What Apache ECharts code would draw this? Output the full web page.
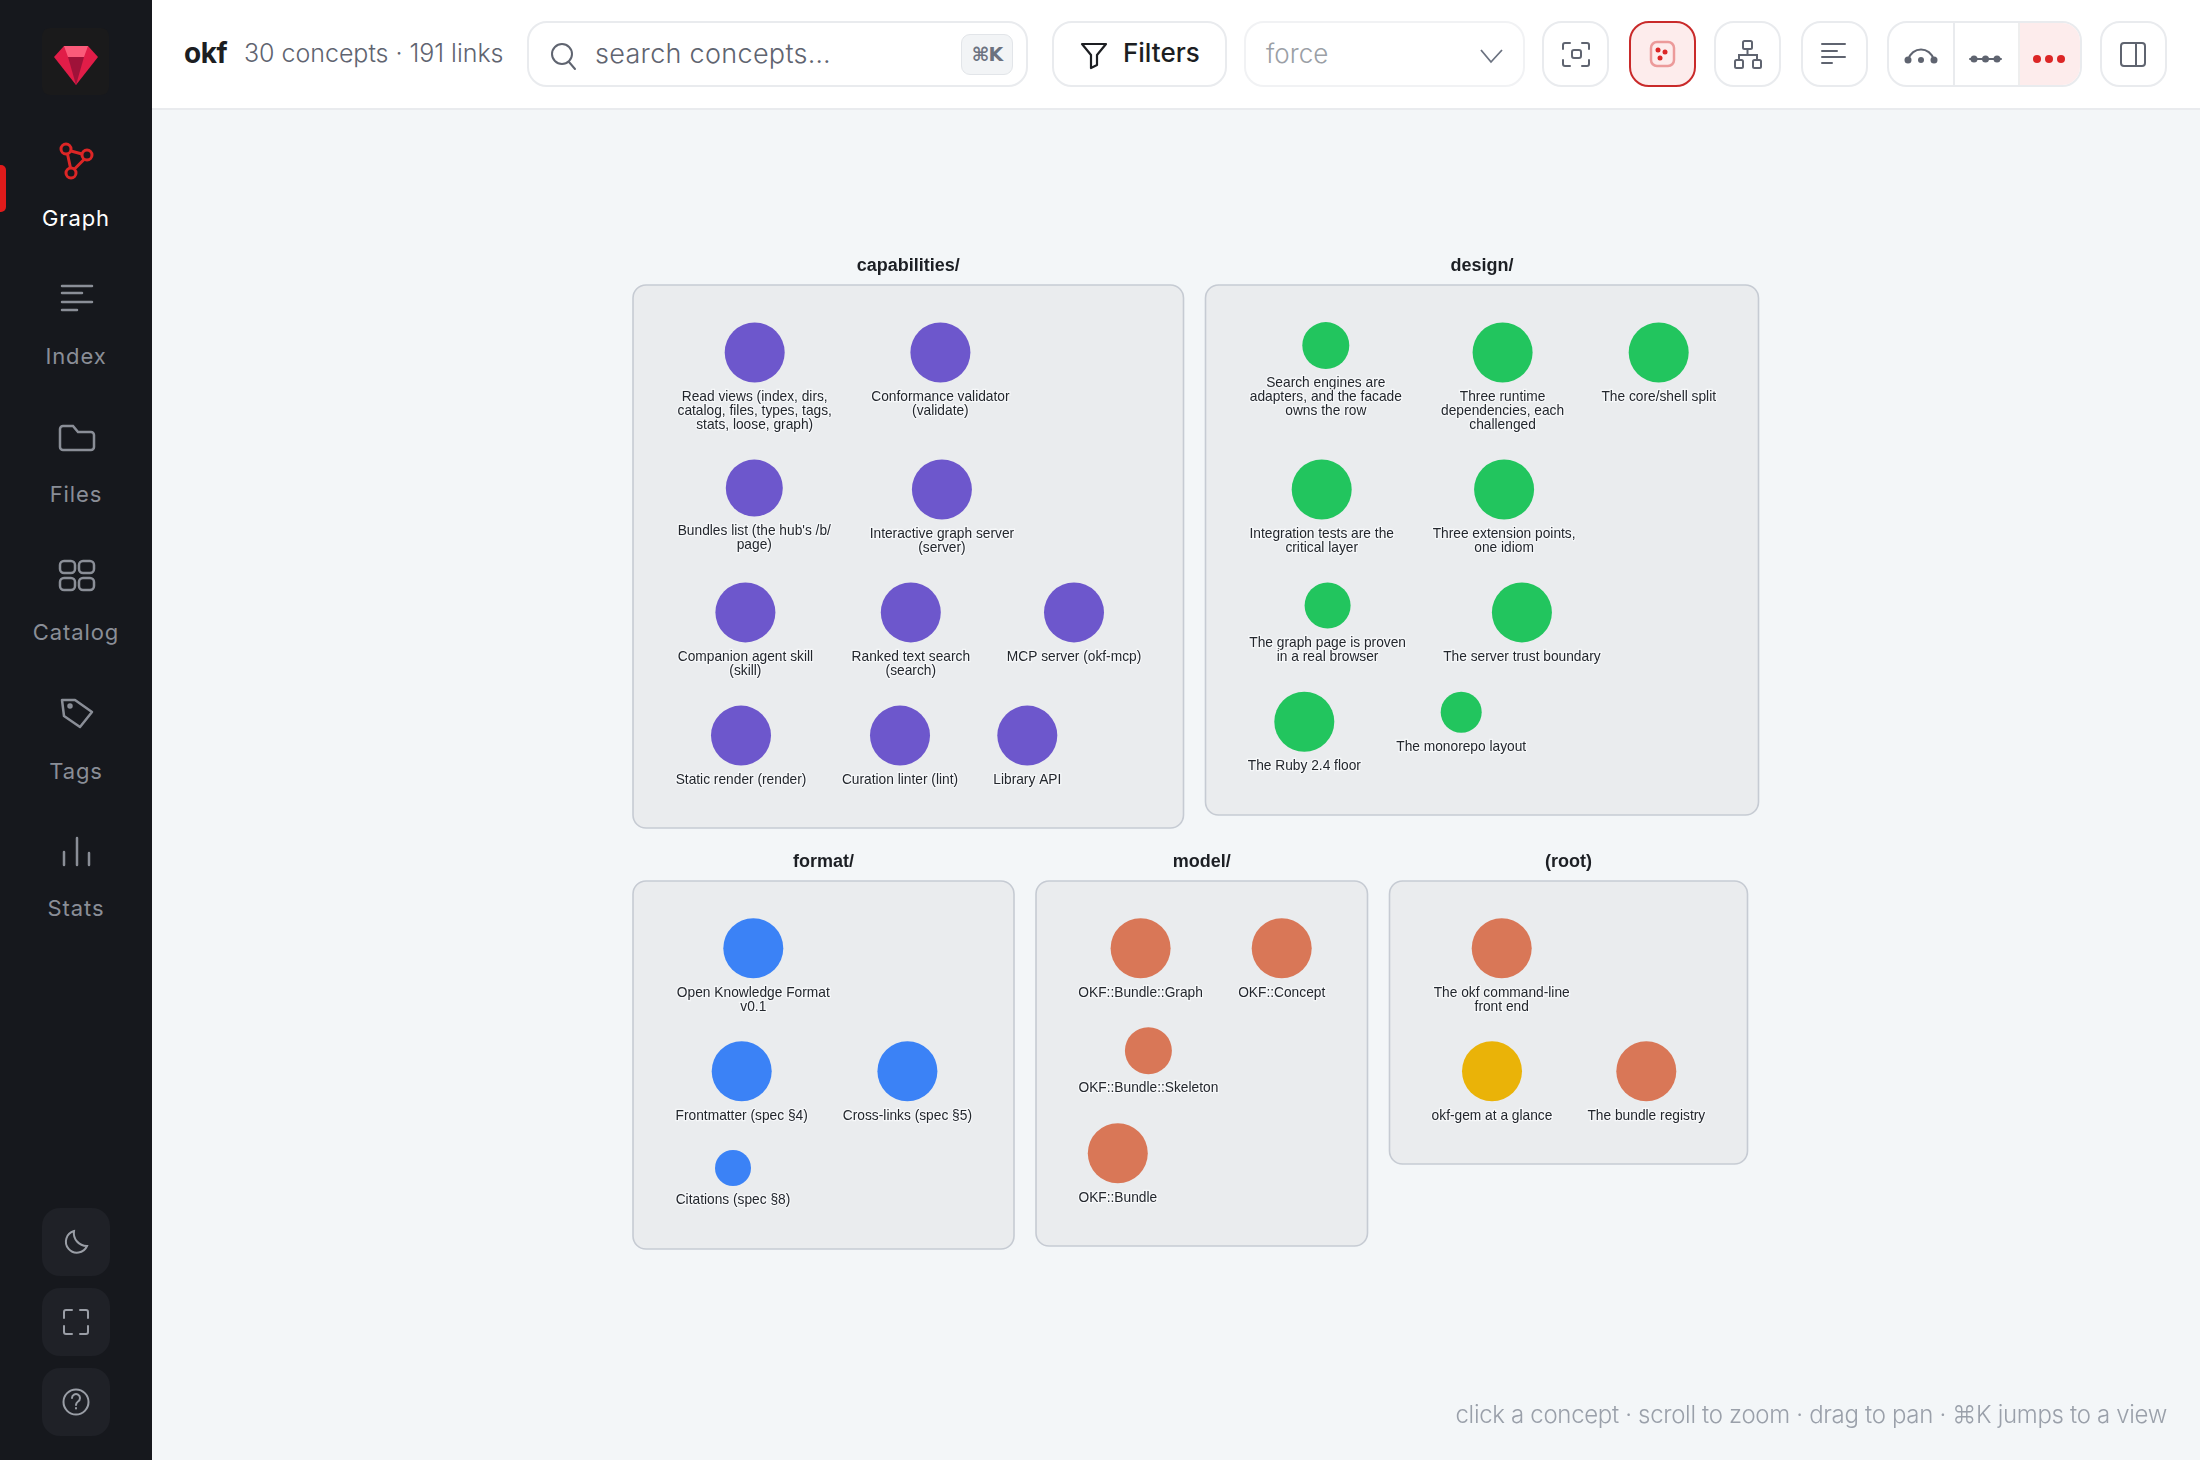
<!DOCTYPE html>
<html><head><meta charset="utf-8"><title>okf graph</title>
<script src="https://cdn.jsdelivr.net/npm/echarts@6/dist/echarts.min.js"></script>
<style>
html,body{margin:0;padding:0;width:2200px;height:1460px;overflow:hidden;background:#f3f6f8;font-family:Inter,"DejaVu Sans",sans-serif}
#chart{position:absolute;left:0;top:0;width:2200px;height:1460px}
#side{position:absolute;left:0;top:0;width:152px;height:1460px;background:#16181d}
#head{position:absolute;left:152px;top:0;width:2048px;height:108px;background:#fff;border-bottom:2px solid #e9ebee}
.t{position:absolute;white-space:nowrap;line-height:1}
.nav{position:absolute;left:0;width:152px;text-align:center;font-size:22px;letter-spacing:.9px;color:#8a8e97;line-height:1;font-weight:400}
.box{position:absolute;top:21px;height:62px;border:2px solid #e9ebee;border-radius:20px;background:#fff;box-sizing:content-box}
.sb{position:absolute;left:42px;width:68px;height:68px;border-radius:18px;background:#1f2127}
svg{position:absolute;overflow:visible}
</style></head><body>
<div id="chart"></div>
<div id="side">
  <div style="position:absolute;left:42px;top:28px;width:67px;height:67px;background:#1a1a1b;border-radius:8px"></div>
  <div class="sb" style="top:1208px"></div><div class="sb" style="top:1288px"></div><div class="sb" style="top:1368px"></div>
  <svg style="left:0;top:0" width="152" height="1460">
    <polygon points="64,46 88,46 98,57 76,85 54,57" fill="#e11d48"/>
    <polygon points="64,46 88,46 84,57 68,57" fill="#fb5b7a"/>
    <polygon points="68,57 84,57 76,85" fill="#9f1239"/>
    <g fill="none" stroke="#dc2626" stroke-width="3">
      <circle cx="66" cy="149" r="5"/><circle cx="87" cy="155" r="5"/><circle cx="71" cy="173" r="5"/>
      <path d="M71 151 L82 154 M67.500 154 L70.500 168 M84 159.500 L74.500 169"/>
    </g>
    <g fill="none" stroke="#8a8e97" stroke-width="2.500" stroke-linecap="round">
      <path d="M62 286H92 M62 293H82 M62 302H92 M62 310H77"/>
      <path d="M60 429a3 3 0 0 1 3-3h10l5 6h13a3 3 0 0 1 3 3v12a3 3 0 0 1-3 3H63a3 3 0 0 1-3-3z"/>
      <rect x="60" y="561" width="15" height="12" rx="4"/><rect x="79" y="561" width="15" height="12" rx="4"/>
      <rect x="60" y="578" width="15" height="12" rx="4"/><rect x="79" y="578" width="15" height="12" rx="4"/>
      <path d="M62 700 L75 700 L92 712 L80 727 L64 716 Z" stroke-linejoin="round"/><circle cx="70" cy="706" r="1.500"/>
      <path d="M64 852V865 M77 838V865 M89 853V865"/>
    </g>
    <g fill="none" stroke="#9a9ea6" stroke-width="2" stroke-linecap="round">
      <path d="M74 1231a11 11 0 1 0 13 15a13 13 0 0 1-13-15z"/>
      <path d="M64 1318v-6a2 2 0 0 1 2-2h6 M80 1310h6a2 2 0 0 1 2 2v6 M88 1326v6a2 2 0 0 1-2 2h-6 M72 1334h-6a2 2 0 0 1-2-2v-6"/>
      <circle cx="76" cy="1402" r="12.500"/><path d="M72 1398a4 4 0 1 1 6 3.500c-1.500 1-2 1.500-2 3.500"/><path d="M76 1408v.5"/>
    </g>
  </svg>
  <div style="position:absolute;left:0;top:165px;width:6px;height:47px;background:#e01b1b;border-radius:0 5px 5px 0"></div>
  <div class="nav" style="top:207px;color:#fff">Graph</div>
  <div class="nav" style="top:345px">Index</div>
  <div class="nav" style="top:483px">Files</div>
  <div class="nav" style="top:621px">Catalog</div>
  <div class="nav" style="top:760px">Tags</div>
  <div class="nav" style="top:897px">Stats</div>
</div>
<div id="head"></div>
<div class="t" style="left:184px;top:39px;font-size:28px;font-weight:700;color:#1c1e22;letter-spacing:-.5px">okf</div>
<div class="t" style="left:244px;top:41px;font-size:25px;font-weight:300;color:#5f6470;letter-spacing:-.03px">30 concepts · 191 links</div>
<div class="box" style="left:527px;width:497px"></div>
<div class="t" style="left:595px;top:40px;font-size:27px;font-weight:300;color:#5f6470;letter-spacing:.3px">search concepts…</div>
<div style="position:absolute;left:961px;top:34px;width:50px;height:39px;background:#f2f4f6;border:1px solid #e2e5e9;border-radius:9px;font:700 19px 'DejaVu Sans',sans-serif;color:#6b7280;text-align:center;line-height:39px;letter-spacing:-1px">⌘K</div>
<div class="box" style="left:1052px;width:171px"></div>
<div class="t" style="left:1123px;top:40px;font-size:26px;font-weight:500;color:#1c1e22">Filters</div>
<div class="box" style="left:1244px;width:277px;border-color:#f1f2f4"></div>
<div class="t" style="left:1266px;top:41px;font-size:26px;font-weight:300;color:#9b9fa6">force</div>
<div class="box" style="left:1542px;width:63px"></div>
<div class="box" style="left:1629px;width:63px;background:#fdecec;border-color:#c92a2a"></div>
<div class="box" style="left:1714px;width:63px"></div>
<div class="box" style="left:1801px;width:63px"></div>
<div class="box" style="left:1887px;width:191px;overflow:hidden">
  <div style="position:absolute;left:64px;top:0;width:2px;height:62px;background:#e9ebee"></div>
  <div style="position:absolute;left:129px;top:0;width:62px;height:62px;background:#fdecec;border-left:2px solid #eee"></div>
</div>
<div class="box" style="left:2100px;width:63px"></div>
<svg style="left:0;top:0;z-index:3" width="2200" height="108">
  <g fill="none" stroke="#5f6470" stroke-width="2" stroke-linecap="round">
    <circle cx="562" cy="54" r="10"/><path d="M569 62l6 7"/>
  </g>
  <g fill="none" stroke="#1c1e22" stroke-width="2.200" stroke-linejoin="round"><path d="M1082 44h24l-9 11v10l-6 3v-13z"/></g>
  <path d="M1481 50l10 12l11-12" fill="none" stroke="#6b7280" stroke-width="1.800"/>
  <g fill="none" stroke="#5f6470" stroke-width="2" stroke-linecap="round">
    <path d="M1563 49v-4a2 2 0 0 1 2-2h5 M1582 43h5a2 2 0 0 1 2 2v4 M1589 60v4a2 2 0 0 1-2 2h-5 M1570 66h-5a2 2 0 0 1-2-2v-4"/>
    <rect x="1572" y="50" width="9" height="8" rx="2"/>
    <rect x="1743" y="41" width="9" height="8" rx="1.500"/><rect x="1735" y="60" width="8" height="8" rx="1.500"/><rect x="1753" y="60" width="8" height="8" rx="1.500"/>
    <path d="M1747.500 49V55 M1739 60V55H1757V60"/>
    <path d="M1822 44H1845 M1822 51H1837 M1822 57H1845 M1822 63H1832"/>
    <path d="M1908 60C1912 46 1930 46 1934 60"/>
    <path d="M1970 59H2001"/>
    <rect x="2121" y="43" width="24" height="23" rx="3"/><path d="M2136 43V66"/>
  </g>
  <rect x="1651" y="42" width="23" height="24" rx="6" fill="none" stroke="#ec9a9a" stroke-width="2.500"/>
  <g fill="#dc2626"><circle cx="1658" cy="50" r="2.500"/><circle cx="1665" cy="52" r="2.500"/><circle cx="1660" cy="58" r="2.500"/></g>
  <g fill="#5f6470">
    <circle cx="1908" cy="60" r="3.500"/><circle cx="1921" cy="60" r="3"/><circle cx="1934" cy="60" r="3.500"/>
    <circle cx="1974" cy="59" r="3.500"/><circle cx="1985.500" cy="59" r="3.500"/><circle cx="1997" cy="59" r="3.500"/>
  </g>
  <g fill="#dc2626"><circle cx="2037" cy="59" r="4"/><circle cx="2049" cy="59" r="4"/><circle cx="2061" cy="59" r="4"/></g>
</svg>
<div class="t" style="right:33px;top:1403px;font-size:24px;font-weight:300;color:#9aa0aa;letter-spacing:-.32px">click a concept · scroll to zoom · drag to pan · ⌘K jumps to a view</div>
<script>
const groupNames  = ['capabilities/', 'design/', 'format/', 'model/', '(root)'];
const groupLeft   = [633, 1205.5, 633, 1036, 1389.5];
const groupRight  = [1183.5, 1758.5, 1014, 1367.5, 1747.5];
const groupTop    = [285, 285, 881, 881, 881];
const groupBottom = [828, 815, 1249, 1246, 1164];

const nodeNames = [
  'Read views (index, dirs,\ncatalog, files, types, tags,\nstats, loose, graph)', 'Conformance validator\n(validate)',
  "Bundles list (the hub's /b/\npage)", 'Interactive graph server\n(server)',
  'Companion agent skill\n(skill)', 'Ranked text search\n(search)', 'MCP server (okf-mcp)',
  'Static render (render)', 'Curation linter (lint)', 'Library API',
  'Search engines are\nadapters, and the facade\nowns the row', 'Three runtime\ndependencies, each\nchallenged', 'The core/shell split',
  'Integration tests are the\ncritical layer', 'Three extension points,\none idiom',
  'The graph page is proven\nin a real browser', 'The server trust boundary',
  'The Ruby 2.4 floor', 'The monorepo layout',
  'Open Knowledge Format\nv0.1', 'Frontmatter (spec §4)', 'Cross-links (spec §5)', 'Citations (spec §8)',
  'OKF::Bundle::Graph', 'OKF::Concept', 'OKF::Bundle::Skeleton', 'OKF::Bundle',
  'The okf command-line\nfront end', 'okf-gem at a glance', 'The bundle registry'
];
const nodeX = [754.7, 940.4, 754.3, 941.9, 745.4, 910.8, 1074, 741, 900, 1027.3,
  1325.8, 1502.6, 1658.7, 1321.7, 1504.1, 1327.6, 1521.9, 1304.3, 1461.2,
  753.3, 741.7, 907.4, 733, 1140.6, 1281.7, 1148.4, 1117.8, 1501.7, 1492, 1646.3];
const nodeY = [352.5, 352.5, 488, 489.5, 612.4, 612.4, 612.4, 735.6, 735.6, 735.6,
  345.6, 352.5, 352.5, 489.5, 489.5, 605.5, 612.4, 721.8, 712.2,
  948.3, 1071.3, 1071.3, 1168, 948.3, 948.3, 1050.7, 1153.3, 948.3, 1071.3, 1071.3];
const nodeSize = [60, 60, 57, 60, 60, 60, 60, 60, 60, 60,
  47, 60, 60, 60, 60, 46, 60, 60, 41,
  60, 60, 60, 36, 60, 60, 47, 60, 60, 60, 60];
const nodeKind = [0,0,0,0,0,0,0,0,0,0, 1,1,1,1,1,1,1,1,1, 2,2,2,2, 3,3,3,3, 3,4,3];
const kindColors = ['#6d57cc', '#22c55e', '#3b82f6', '#d97757', '#eab308'];

const chart = echarts.init(document.getElementById('chart'), null, {width: 2200, height: 1460});
chart.setOption({
  animation: false,
  backgroundColor: '#f3f6f8',
  grid: {left: 0, right: 0, top: 0, bottom: 0},
  xAxis: {type: 'value', min: 0, max: 2200, show: false},
  yAxis: {type: 'value', min: 0, max: 1460, inverse: true, show: false},
  tooltip: {show: false},
  series: [
    {
      type: 'custom', silent: true, z: 1,
      data: groupNames.map((n, i) => [groupLeft[i], groupTop[i], groupRight[i], groupBottom[i], n]),
      renderItem(params, api) {
        const a = api.coord([api.value(0), api.value(1)]);
        const b = api.coord([api.value(2), api.value(3)]);
        return {type: 'group', children: [
          {type: 'rect', shape: {x: a[0], y: a[1], width: b[0] - a[0], height: b[1] - a[1], r: 13},
           style: {fill: '#eaecee', stroke: '#c6cbd3', lineWidth: 1.6}},
          {type: 'text', style: {x: (a[0] + b[0]) / 2, y: a[1] - 19, text: groupNames[params.dataIndex],
            fill: '#1c1f24', font: 'bold 18px "Liberation Sans", Arial, sans-serif', align: 'center', verticalAlign: 'middle'}}
        ]};
      }
    },
    {
      type: 'scatter', z: 2,
      data: nodeNames.map((n, i) => ({
        value: [nodeX[i], nodeY[i]], name: n, symbolSize: nodeSize[i],
        itemStyle: {color: kindColors[nodeKind[i]], opacity: 1}
      })),
      label: {
        show: true, position: 'bottom', distance: 7.5, formatter: p => p.name,
        fontSize: 13.75, fontFamily: '"Liberation Sans", Arial, sans-serif',
        lineHeight: 14, color: '#23272d', align: 'center',
        textBorderColor: 'rgba(248,249,250,0.85)', textBorderWidth: 2.5
      },
      labelLayout: {hideOverlap: false}
    }
  ]
});
</script>
</body></html>
